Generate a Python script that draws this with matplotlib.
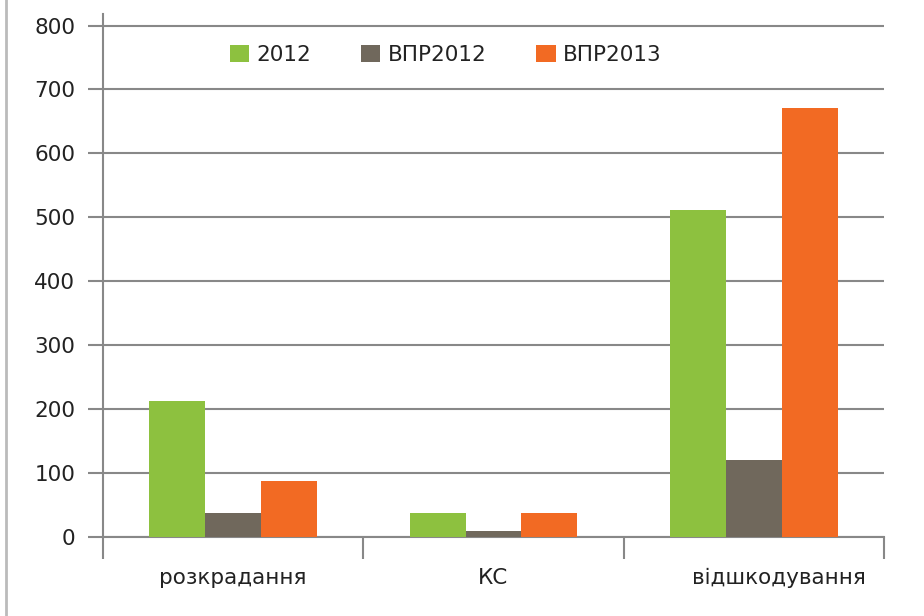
import numpy as np
import matplotlib.pyplot as plt
import matplotlib.transforms as mtransforms
from matplotlib.lines import Line2D

plt.rcParams['font.family'] = ['DejaVu Sans']

categories = ['розкрадання', 'КС', 'відшкодування']
series = ['2012', 'ВПР2012', 'ВПР2013']
v2012 = [212, 37, 512]
vpr2012 = [37, 9, 121]
vpr2013 = [87, 37, 671]
colors = ['#8DC13F', '#70685C', '#F26A23']

fig = plt.figure(figsize=(9.24, 6.16), dpi=100)
ax = fig.add_axes([103 / 924, (616 - 537) / 616, 781 / 924, 523 / 616])

x = np.arange(len(categories))
w = 0.215
for i, (vals, name) in enumerate(zip([v2012, vpr2012, vpr2013], series)):
    ax.bar(x + (i - 1) * w, vals, w, color=colors[i], label=name, zorder=3)

ax.set_xlim(-0.5, 2.5)
ax.set_ylim(0, 818)
ax.set_yticks(range(0, 801, 100))
ax.yaxis.grid(True, color='#888888', lw=1.5, zorder=0)

grid_c = '#888888'
for s in ['top', 'right']:
    ax.spines[s].set_visible(False)
for s in ['left', 'bottom']:
    ax.spines[s].set_color(grid_c)
    ax.spines[s].set_linewidth(1.5)

ax.tick_params(axis='y', length=11, width=1.5, color=grid_c, labelsize=15.5,
               labelcolor='#222222', pad=9)
ax.set_xticks(x)
ax.set_xticklabels(categories)
ax.tick_params(axis='x', which='major', length=0, labelsize=15.5,
               labelcolor='#222222', pad=22)
ax.set_xticks([-0.5, 0.5, 1.5, 2.5], minor=True)
ax.tick_params(axis='x', which='minor', length=16, width=1.5, color=grid_c)

# last category label sits a bit right of its group in the original
lbl = ax.get_xticklabels()[2]
lbl.set_transform(lbl.get_transform() + mtransforms.ScaledTranslation(25 / 100, 0, fig.dpi_scale_trans))

ax.legend(loc='center', bbox_to_anchor=(0.439, 0.922), ncol=3, frameon=False,
          fontsize=15.5, handlelength=0.9, handleheight=0.9, handletextpad=0.35,
          columnspacing=2.3, labelcolor='#222222')

fig.add_artist(Line2D([6 / 924, 6 / 924], [0, 1], color='#BBBBBB', lw=2,
                      transform=fig.transFigure))

fig.savefig('out.png', dpi=100)
